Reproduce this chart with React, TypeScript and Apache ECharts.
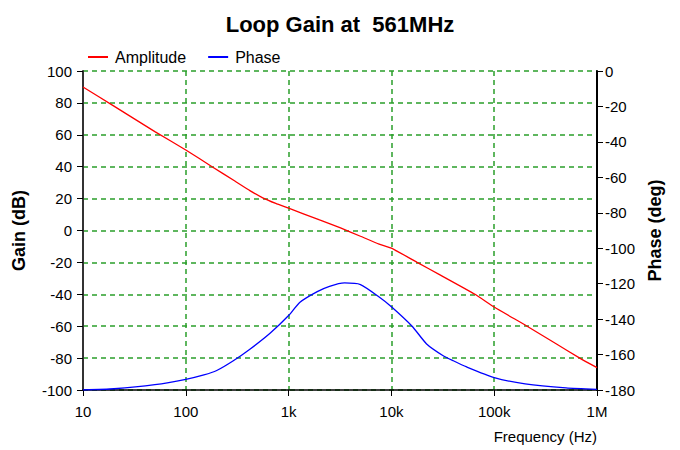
import React, { useEffect, useRef } from "react";
import * as echarts from "echarts";

const freqs = [10, 20, 50, 100, 180, 300, 420, 560, 750, 1000, 2000, 3200, 5000, 7600, 10000, 17800, 30000, 65000, 100000, 209000, 400000, 680000, 1000000];
const amplitude = [90, 78, 62, 50.5, 40, 31, 25, 20.5, 17, 14, 6.6, 1.6, -3.6, -8.5, -11, -20, -28, -40, -48, -60, -71, -80, -86];
const phaseFreqs = [10, 20, 50, 100, 150, 200, 290, 420, 660, 1000, 1290, 1900, 2500, 3500, 5000, 7600, 10000, 15900, 22000, 31600, 40000, 54000, 100000, 200000, 500000, 1000000];
const phase = [-180, -179.3, -177, -174, -171.5, -169, -163.5, -157, -148, -138, -130.5, -124.5, -121.5, -119.6, -120.5, -127.5, -133, -144, -154, -160.5, -163.5, -167, -173, -176.5, -178.8, -179.6];
const xTickLabels: Record<string, string> = { "10": "10", "100": "100", "1000": "1k", "10000": "10k", "100000": "100k", "1000000": "1M" };

const FONT = "'Liberation Sans', Arial, sans-serif";

export default function App() {
  const ref = useRef<HTMLDivElement>(null);
  useEffect(() => {
    document.body.style.margin = "0";
    const chart = echarts.init(ref.current!, null, { renderer: "svg" });
    const grid = { color: "#2a9e2a", type: [5, 4] as any, width: 1.5 };
    chart.setOption({
      animation: false,
      backgroundColor: "#ffffff",
      textStyle: { fontFamily: FONT },
      title: {
        text: "Loop Gain at  561MHz",
        left: "center",
        top: 8,
        textStyle: { fontFamily: FONT, fontSize: 22, fontWeight: "bold", color: "#000" },
      },
      legend: {
        left: 83,
        top: 44,
        icon: "rect",
        itemWidth: 20,
        itemHeight: 2,
        itemGap: 22,
        textStyle: { fontFamily: FONT, fontSize: 16, color: "#000", padding: [0, 0, 0, 2] },
        data: ["Amplitude", "Phase"],
      },
      grid: { left: 83, right: 83, top: 71, bottom: 60 },
      xAxis: {
        type: "log",
        logBase: 10,
        min: 10,
        max: 1000000,
        name: "Frequency (Hz)",
        nameLocation: "end",
        nameGap: 0,
        nameTextStyle: { fontSize: 15, color: "#000", align: "right", verticalAlign: "top", padding: [39, 0, 0, 0] },
        axisLine: { onZero: false, lineStyle: { color: "#000", width: 1.5 } },
        axisTick: { show: true, inside: false, length: 6, lineStyle: { color: "#000" } },
        axisLabel: { fontSize: 15, color: "#000", margin: 14, formatter: (v: number) => xTickLabels[String(Math.round(v))] ?? "" },
        splitLine: { show: true, lineStyle: grid },
        minorTick: { show: false },
      },
      yAxis: [
        {
          type: "value",
          min: -100,
          max: 100,
          interval: 20,
          position: "left",
          name: "Gain (dB)",
          nameLocation: "middle",
          nameRotate: 90,
          nameGap: 55,
          nameTextStyle: { fontSize: 18, fontWeight: "bold", color: "#000" },
          axisLine: { show: true, onZero: false, lineStyle: { color: "#333", width: 2 } },
          axisTick: { show: true, length: 6, lineStyle: { color: "#000" } },
          axisLabel: { fontSize: 15, color: "#000", margin: 11 },
          splitLine: { show: true, lineStyle: grid },
        },
        {
          type: "value",
          min: -180,
          max: 0,
          interval: 20,
          position: "right",
          name: "Phase (deg)",
          nameLocation: "middle",
          nameRotate: 90,
          nameGap: 49,
          nameTextStyle: { fontSize: 18, fontWeight: "bold", color: "#000" },
          axisLine: { show: true, onZero: false, lineStyle: { color: "#000", width: 2 } },
          axisTick: { show: true, length: 6, lineStyle: { color: "#000" } },
          axisLabel: { fontSize: 15, color: "#000", margin: 8 },
          splitLine: { show: false },
        },
      ],
      series: [
        {
          name: "Amplitude",
          type: "line",
          yAxisIndex: 0,
          showSymbol: false,
          smooth: 0.15,
          color: "#ff0000",
          lineStyle: { width: 1.3, color: "#ff0000" },
          data: freqs.map((f, i) => [f, amplitude[i]]),
        },
        {
          name: "Phase",
          type: "line",
          yAxisIndex: 1,
          showSymbol: false,
          smooth: 0.2,
          color: "#0000ff",
          lineStyle: { width: 1.3, color: "#0000ff" },
          data: phaseFreqs.map((f, i) => [f, phase[i]]),
        },
      ],
    });
    return () => chart.dispose();
  }, []);
  return <div ref={ref} style={{ width: 680, height: 450 }} />;
}
